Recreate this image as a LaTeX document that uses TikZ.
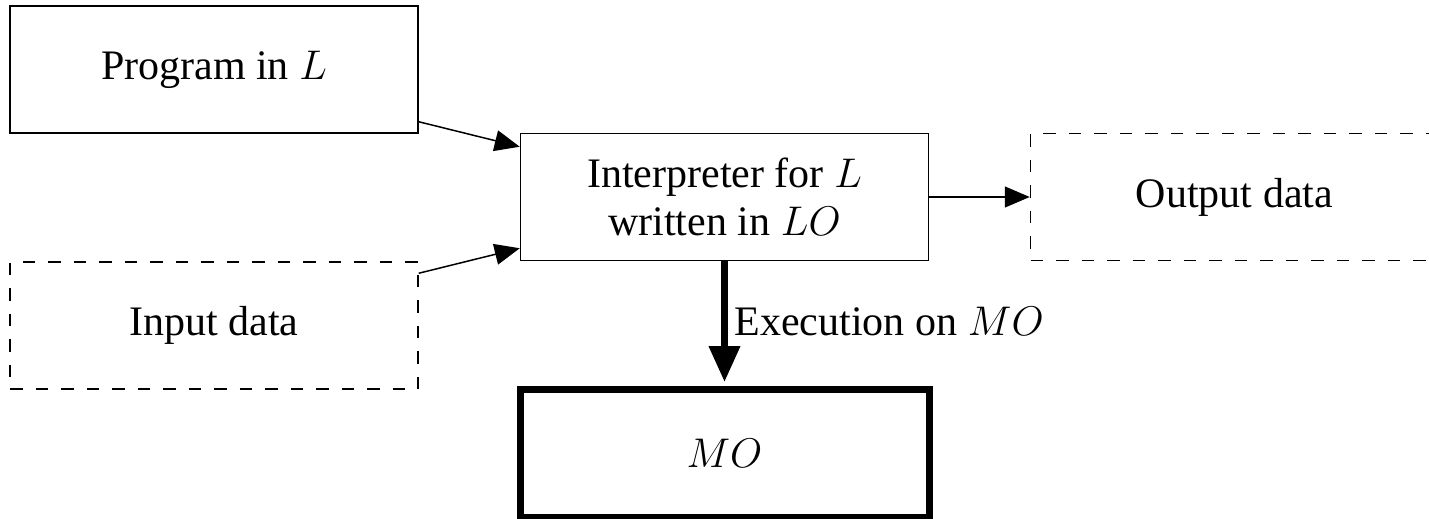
\documentclass[tikz,border=0pt]{standalone}
\usepackage{fontspec}
\setmainfont{Liberation Serif}
\usetikzlibrary{arrows.meta,calc}
\begin{document}
\begin{tikzpicture}[x=0.5pt,y=-0.5pt,
  label font/.style={font=\fontsize{21}{24}\selectfont},
  box/.style={draw, line width=0.75pt, minimum width=204pt, minimum height=63.5pt,
              inner sep=0pt, align=center, label font},
  databox/.style={box, dash pattern=on 6.25pt off 6.5pt},
  machine/.style={box, line width=3.5pt, minimum width=204.5pt, minimum height=63.75pt},
  flow/.style={line width=0.75pt, -{Triangle[length=12.5pt,width=10.5pt]}},
  run/.style={line width=3.5pt, -{Triangle[length=18pt,width=15pt]}}
]
\useasboundingbox (0,0) rectangle (1429,519);

% blocks
\node[box]     (prog)   at (214,69.5)    {Program in $L$};
\node[databox] (input)  at (214,325.5)   {Input data};
\node[box]     (interp) at (724.5,197)   {Interpreter for $L$\\written in $LO$};
\node[databox] (output) at (1234.5,197)  {Output data};
\node[machine] (mo)     at (724.5,453.25) {$MO$};

% data flow into and out of the interpreter
\draw[flow] ($(prog.south east)+(0,-12)$) -- ($(interp.north west)+(0,14)$);
\draw[flow] ($(input.north east)+(0,12)$) -- ($(interp.south west)+(0,-13)$);
\draw[flow] (interp.east) -- (output.west);

% execution on the machine
\coordinate (exe) at (724.5,382);
\draw[run] (interp.south) -- (exe)
  node[midway, anchor=west, label font] {Execution on $MO$};
\end{tikzpicture}
\end{document}
